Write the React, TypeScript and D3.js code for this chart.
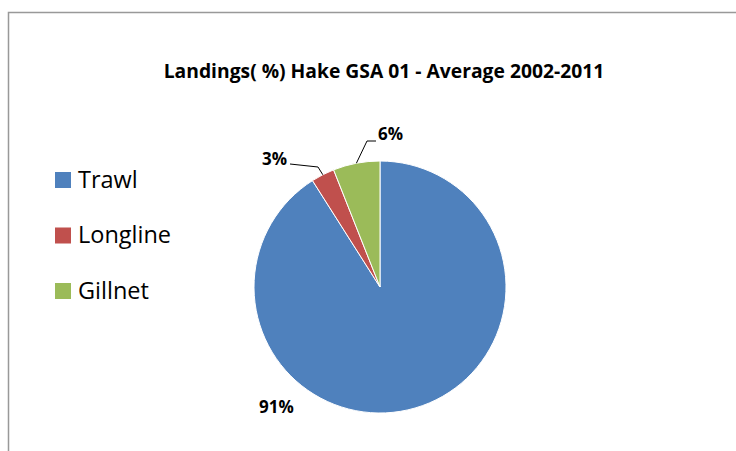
import React from "react";
import * as d3 from "d3";

const categories = ["Trawl", "Longline", "Gillnet"];
const values = [91, 3, 6];
const labels = ["91%", "3%", "6%"];
const colors = ["#4F81BD", "#C0504D", "#9BBB59"];
const title = "Landings( %) Hake GSA 01 - Average 2002-2011";

// layout: label position relative to pie centre, leader path relative to centre
const labelLayout = [
  { tx: -121, ty: 126, anchor: "start", leader: null as null | number[][] },
  { tx: -93, ty: -122, anchor: "end", leader: [[-62, -120], [-90, -123]] },
  { tx: -2, ty: -147, anchor: "start", leader: [[-13, -146], [-4, -146]] },
];

export default function App() {
  const W = 736, H = 451;
  const cx = 380, cy = 287, r = 126;
  const pie = d3.pie<number>().sort(null).value((d) => d)(values);
  const arc = d3.arc<d3.PieArcDatum<number>>().innerRadius(0).outerRadius(r);
  const font = "'Open Sans', Lato, sans-serif";
  return (
    <svg width={W} height={H} style={{ position: "absolute", left: 0, top: 0, background: "#fff" }}>
      <rect x={8.5} y={12.5} width={W} height={H} fill="#fff" stroke="#999" strokeWidth={1.5} />
      <text x={384} y={78} textAnchor="middle" fontFamily={font} fontWeight={700} fontSize={19.3} fill="#000">
        {title}
      </text>
      <g transform={`translate(${cx},${cy})`}>
        {pie.map((p, i) => (
          <path key={i} d={arc(p) || ""} fill={colors[i]} stroke="#fff" strokeWidth={1} />
        ))}
        {pie.map((p, i) => {
          const L = labelLayout[i];
          if (!L.leader) return null;
          const mid = (p.startAngle + p.endAngle) / 2;
          const ax = r * Math.sin(mid), ay = -r * Math.cos(mid);
          const pts = [[ax, ay], ...L.leader].map((q) => q.join(",")).join(" ");
          return <polyline key={i} points={pts} fill="none" stroke="#000" strokeWidth={1} />;
        })}
        {pie.map((p, i) => {
          const L = labelLayout[i];
          return (
            <text key={i} x={L.tx} y={L.ty} textAnchor={L.anchor as any}
              fontFamily={font} fontWeight={700} fontSize={17} fill="#000">
              {labels[i]}
            </text>
          );
        })}
      </g>
      {categories.map((c, i) => (
        <g key={c} transform={`translate(55,${172 + i * 55.5})`}>
          <rect x={0} y={0} width={16} height={16} fill={colors[i]} />
          <text x={23} y={15.5} fontFamily={font} fontSize={23.5} fill="#000">{c}</text>
        </g>
      ))}
    </svg>
  );
}
